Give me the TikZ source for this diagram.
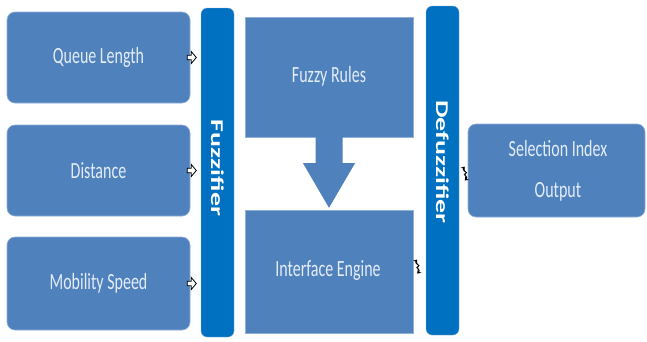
\documentclass[tikz,border=0pt]{standalone}
\usepackage{fontspec}
\usepackage{graphicx}
\setmainfont{Carlito}
\usetikzlibrary{calc,arrows.meta}

\definecolor{boxblue}{HTML}{4F81BD}
\definecolor{barblue}{HTML}{0070C0}
\definecolor{edgeblue}{HTML}{8FB0D8}
\definecolor{labelwhite}{HTML}{E4ECF7}

% tall, narrow lettering used for every label
\newcommand{\tallTxt}[1]{\scalebox{1}[1.45]{#1}}
\newcommand{\barTxt}[1]{\scalebox{1.55}[1]{\bfseries #1}}

\begin{document}
\begin{tikzpicture}[x=1pt,y=-1pt,
  inputbox/.style={rectangle, rounded corners=8pt, fill=boxblue, draw=edgeblue,
    line width=0.6pt, inner sep=0pt, minimum width=183pt},
  blockbox/.style={rectangle, fill=boxblue, draw=edgeblue, line width=0.4pt,
    inner sep=0pt, minimum width=168pt},
  barbox/.style={rectangle, rounded corners=6pt, fill=barblue, draw=edgeblue,
    line width=0.4pt, inner sep=0pt, minimum width=33pt, minimum height=329pt},
  lbl/.style={text=labelwhite, font=\fontsize{16}{19}\selectfont, inner sep=0pt},
  barlbl/.style={text=white, font=\fontsize{18}{21}\selectfont, inner sep=0pt, rotate=-90},
  linkarrow/.pic={\draw[black, line width=0.8pt, fill=white]
    (0,-2.2) -- (4,-2.2) -- (4,-6) -- (9,0) -- (4,6) -- (4,2.2) -- (0,2.2) -- cycle;},
  linkswap/.pic={\draw[black, line width=1pt, {Stealth[length=3.5pt,width=5pt]}-{Stealth[length=3.5pt,width=5pt]}]
    (0,-7) .. controls (-3,-3) and (4,-1) .. (1,0) .. controls (-3,1) and (4,3) .. (0,7);}
]
\useasboundingbox (0,0) rectangle (647,341);
\fill[white] (0,0) rectangle (647,341);

% input variables
\node[inputbox, minimum height=91pt] (ql)   at (98.5,57.5)  {};
\node[inputbox, minimum height=91pt] (dist) at (98.5,170.5) {};
\node[inputbox, minimum height=93pt] (mob)  at (98.5,283.5) {};
\node[lbl] at (ql)   {\tallTxt{Queue Length}};
\node[lbl] at (dist) {\tallTxt{Distance}};
\node[lbl] at (mob)  {\tallTxt{Mobility Speed}};

% fuzzifier and defuzzifier bars
\node[barbox] (fuzz)   at (217.5,172.5) {};
\node[barbox] (defuzz) at (442.5,170.5) {};
\node[barlbl] at (217.5,168) {\barTxt{Fuzzifier}};
\node[barlbl] at (442.5,162) {\barTxt{Defuzzifier}};

% rule base and inference engine
\node[blockbox, minimum height=120pt] (rules)  at (329,77)    {};
\node[blockbox, minimum height=123pt] (engine) at (329,271.5) {};
\node[lbl] at (329,76)  {\tallTxt{Fuzzy Rules}};
\node[lbl] at (328,271) {\tallTxt{Interface Engine}};

% output
\node[inputbox, rounded corners=8pt, minimum width=177pt, minimum height=93pt] (out) at (556.5,170.5) {};
\node[lbl] at (558,149) {\tallTxt{Selection Index}};
\node[lbl] at (558,192) {\tallTxt{Output}};

% block arrow from rules down to the engine
\path (rules.south) coordinate (as) (engine.north) coordinate (ae);
\fill[boxblue] ($(as)+(-13.5,-1)$) -- ($(as)+(13.5,-1)$) -- ($(as)+(13.5,26)$)
  -- ($(as)+(26,26)$) -- ($(ae)+(0,-2)$) -- ($(as)+(-26,26)$) -- ($(as)+(-13.5,26)$) -- cycle;

% small link markers between stages
\pic at ([xshift=-3pt]ql.east)   {linkarrow};
\pic at ([xshift=-3pt]dist.east) {linkarrow};
\pic at ([xshift=-3pt]mob.east)  {linkarrow};
\pic at ([xshift=4pt,yshift=5pt]engine.east) {linkswap};
\pic at ([xshift=-3pt,yshift=-3pt]out.west) {linkswap};
\end{tikzpicture}
\end{document}
